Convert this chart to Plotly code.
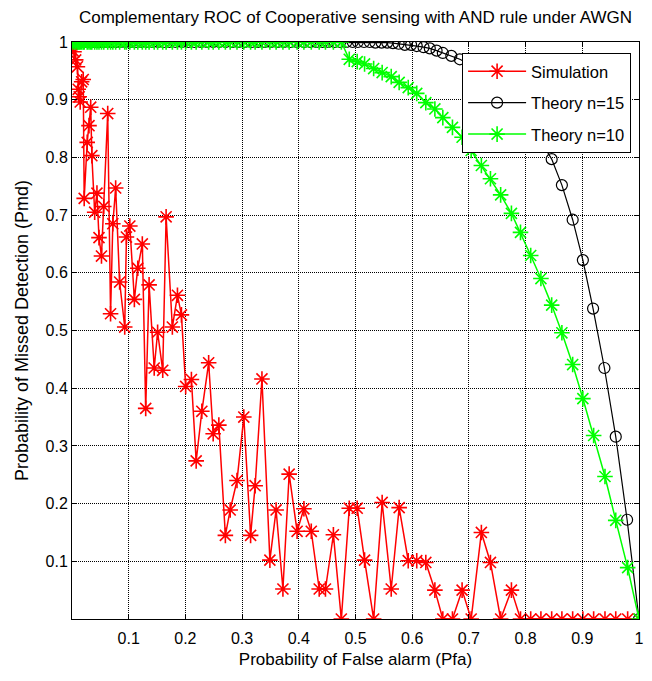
import plotly.graph_objects as go

# Shared Pfa grid (simulation + theory n=10)
pfa = [0.000, 0.0035, 0.0065, 0.0095, 0.011, 0.0127, 0.0145, 0.017, 0.0198, 0.0215,
       0.0268, 0.030, 0.033, 0.035, 0.040, 0.044, 0.0476, 0.052, 0.056, 0.063,
       0.068, 0.072, 0.077, 0.084, 0.093, 0.096, 0.102, 0.110, 0.116, 0.124,
       0.130, 0.136, 0.145, 0.151, 0.160, 0.166, 0.177, 0.186, 0.193, 0.2005,
       0.2106, 0.219, 0.229, 0.241, 0.249, 0.259, 0.2705, 0.279, 0.291, 0.303,
       0.315, 0.323, 0.335, 0.349, 0.360, 0.372, 0.383, 0.397, 0.409, 0.422,
       0.436, 0.447, 0.461, 0.475, 0.489, 0.503, 0.516, 0.532, 0.547, 0.563,
       0.577, 0.593, 0.608, 0.624, 0.640, 0.654, 0.671, 0.688, 0.704, 0.722,
       0.738, 0.756, 0.775, 0.791, 0.809, 0.827, 0.846, 0.864, 0.883, 0.901,
       0.920, 0.940, 0.959, 0.980, 1.0]

sim_pmd = [0.995, 0.983, 0.969, 0.957, 0.918, 0.905, 0.896, 0.931, 0.935, 0.729,
           0.826, 0.855, 0.887, 0.803, 0.705, 0.738, 0.661, 0.629, 0.715, 0.876,
           0.529, 0.685, 0.747, 0.584, 0.506, 0.662, 0.681, 0.554, 0.608, 0.650,
           0.365, 0.579, 0.435, 0.497, 0.431, 0.697, 0.506, 0.561, 0.527, 0.403,
           0.415, 0.274, 0.360, 0.444, 0.321, 0.336, 0.145, 0.189, 0.240, 0.350,
           0.145, 0.231, 0.416, 0.102, 0.189, 0.052, 0.251, 0.152, 0.191, 0.152,
           0.052, 0.052, 0.146, 0.0, 0.192, 0.192, 0.102, 0.0, 0.202, 0.052,
           0.193, 0.101, 0.101, 0.098, 0.050, 0.0, 0.0, 0.050, 0.0, 0.150,
           0.098, 0.0, 0.050, 0.0, 0.0, 0.0, 0.0, 0.0, 0.0, 0.0,
           0.0, 0.0, 0.0, 0.0, 0.0]

theory10_pmd = [1.0, 1.0, 1.0, 1.0, 1.0, 1.0, 1.0, 1.0, 1.0, 1.0,
                1.0, 1.0, 1.0, 1.0, 1.0, 1.0, 1.0, 1.0, 1.0, 1.0,
                1.0, 1.0, 1.0, 1.0, 1.0, 1.0, 1.0, 1.0, 1.0, 1.0,
                1.0, 1.0, 1.0, 1.0, 1.0, 1.0, 1.0, 1.0, 1.0, 1.0,
                1.0, 1.0, 1.0, 1.0, 1.0, 1.0, 1.0, 1.0, 1.0, 1.0,
                1.0, 1.0, 1.0, 1.0, 1.0, 1.0, 1.0, 1.0, 1.0, 1.0,
                1.0, 1.0, 1.0, 1.0, 0.970, 0.966, 0.962, 0.954, 0.947, 0.940,
                0.930, 0.921, 0.911, 0.895, 0.884, 0.869, 0.852, 0.835, 0.812, 0.786,
                0.763, 0.735, 0.703, 0.670, 0.630, 0.590, 0.544, 0.496, 0.441, 0.382,
                0.318, 0.247, 0.171, 0.089, 0.0]

# Theory n=15 (own Pfa grid)
pfa15 = [0.000, 0.002, 0.005, 0.008, 0.012, 0.016, 0.020, 0.025, 0.030, 0.036,
         0.042, 0.048, 0.055, 0.062, 0.070, 0.078, 0.086, 0.095, 0.104, 0.113,
         0.122, 0.132, 0.142, 0.152, 0.162, 0.172, 0.183, 0.194, 0.205, 0.216,
         0.227, 0.238, 0.249, 0.260, 0.271, 0.283, 0.294, 0.305, 0.317, 0.328,
         0.340, 0.351, 0.363, 0.374, 0.386, 0.397, 0.409, 0.420, 0.431, 0.442,
         0.452, 0.463, 0.473, 0.484, 0.495, 0.504, 0.515, 0.525, 0.535, 0.546,
         0.556, 0.566, 0.576, 0.587, 0.598, 0.608, 0.620, 0.631, 0.643, 0.654,
         0.669, 0.684, 0.700, 0.716, 0.733, 0.750, 0.768, 0.787, 0.806, 0.826,
         0.846, 0.864, 0.883, 0.901, 0.919, 0.939, 0.959, 0.979, 1.0]

theory15_pmd = [1.0, 1.0, 1.0, 1.0, 1.0, 1.0, 1.0, 1.0, 1.0, 1.0,
                1.0, 1.0, 1.0, 1.0, 1.0, 1.0, 1.0, 1.0, 1.0, 1.0,
                1.0, 1.0, 1.0, 1.0, 1.0, 1.0, 1.0, 1.0, 1.0, 1.0,
                1.0, 1.0, 1.0, 1.0, 1.0, 1.0, 1.0, 1.0, 1.0, 1.0,
                1.0, 1.0, 1.0, 1.0, 1.0, 1.0, 1.0, 1.0, 1.0, 1.0,
                1.0, 1.0, 1.0, 1.0, 1.0, 1.0, 1.0, 1.0, 0.999, 0.999,
                0.999, 0.998, 0.997, 0.995, 0.995, 0.993, 0.991, 0.989, 0.985, 0.981,
                0.976, 0.970, 0.962, 0.952, 0.940, 0.925, 0.907, 0.885, 0.860, 0.830,
                0.797, 0.752, 0.692, 0.622, 0.538, 0.435, 0.316, 0.172, 0.0]

tick_vals = [0.1, 0.2, 0.3, 0.4, 0.5, 0.6, 0.7, 0.8, 0.9, 1.0]
tick_text = ["0.1", "0.2", "0.3", "0.4", "0.5", "0.6", "0.7", "0.8", "0.9", "1"]

FONT = "Liberation Sans, Arial, Helvetica, sans-serif"

# The page body has an 8px default margin; the figure is sized to fit the window.
W, H = 644, 665

fig = go.Figure()
fig.add_trace(go.Scatter(
    x=pfa, y=sim_pmd, mode="lines+markers", name="Simulation", legendgroup="a",
    line=dict(color="#ff0000", width=1.5),
    marker=dict(symbol="asterisk-open", size=13, color="#ff0000",
                line=dict(color="#ff0000", width=1.6)),
))
fig.add_trace(go.Scatter(
    x=pfa15, y=theory15_pmd, mode="lines+markers", name="Theory n=15", legendgroup="b",
    line=dict(color="#000000", width=1.2),
    marker=dict(symbol="circle-open", size=11, color="#000000",
                line=dict(color="#000000", width=1.2)),
))
fig.add_trace(go.Scatter(
    x=pfa, y=theory10_pmd, mode="lines+markers", name="Theory n=10", legendgroup="c",
    line=dict(color="#00ff00", width=1.5),
    marker=dict(symbol="asterisk-open", size=13, color="#00ff00",
                line=dict(color="#00ff00", width=1.6)),
))

axis_common = dict(
    range=[0, 1], tickvals=tick_vals, ticktext=tick_text, automargin=False,
    showgrid=True, gridcolor="#000000", griddash="1px,1px", gridwidth=1,
    showline=True, linecolor="#000000", linewidth=1, mirror="ticks",
    ticks="inside", ticklen=5, tickcolor="#000000", zeroline=False,
    tickfont=dict(family=FONT, size=16, color="#000000"),
)

fig.update_layout(
    width=W, height=H,
    margin=dict(l=64, r=13, t=34, b=54),
    paper_bgcolor="white", plot_bgcolor="white",
    title=dict(text="Complementary ROC of Cooperative sensing with AND rule under AWGN",
               x=0.5, xref="paper", xanchor="center",
               y=1 - 9 / H, yref="container", yanchor="middle",
               font=dict(family=FONT, size=17, color="#000000")),
    xaxis=dict(axis_common, ticklabelstandoff=5,
               title=dict(text="Probability of False alarm (Pfa)",
                          font=dict(family=FONT, size=17, color="#000000"),
                          standoff=6)),
    yaxis=dict(axis_common, title=dict(text="Probability of Missed Detection (Pmd)",
                                        font=dict(family=FONT, size=18, color="#000000"),
                                        standoff=12)),
    legend=dict(x=0.688, y=0.981, xanchor="left", yanchor="top",
                bgcolor="white", bordercolor="#000000", borderwidth=1,
                font=dict(family=FONT, size=16.5, color="#000000"),
                tracegroupgap=7, itemwidth=58),
    showlegend=True,
)

fig.write_html("out.html")
